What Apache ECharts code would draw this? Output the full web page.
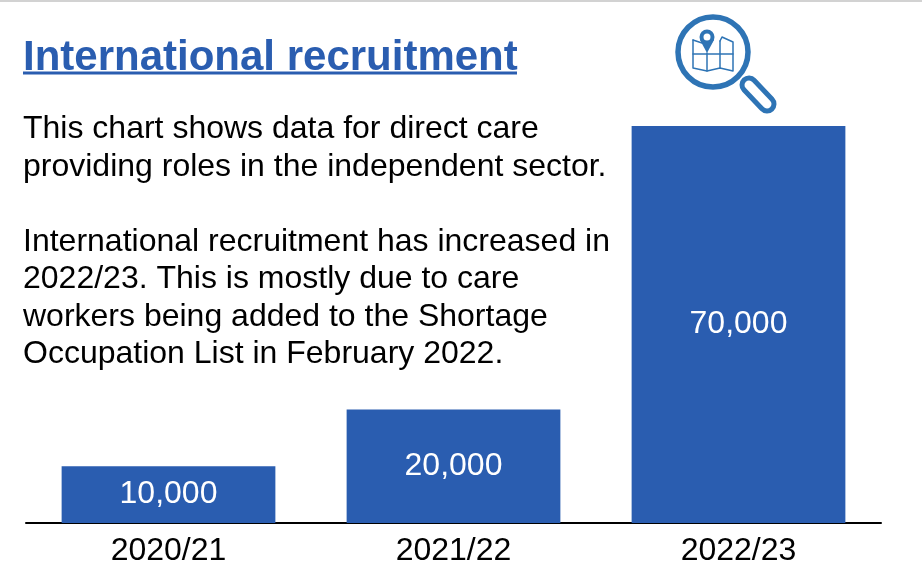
<!DOCTYPE html>
<html>
<head>
<meta charset="utf-8">
<style>html,body{margin:0;padding:0;background:#fff}#main{width:922px;height:568px}</style>
<script src="https://cdn.jsdelivr.net/npm/echarts@6/dist/echarts.min.js"></script>
</head>
<body>
<div id="main"></div>
<script>
var categories = ['2020/21', '2021/22', '2022/23'];
var recruits = [10000, 20000, 70000];
var titleText = 'International recruitment';
var bodyLines = [
    'This chart shows data for direct care',
    'providing roles in the independent sector.',
    '',
    'International recruitment has increased in',
    '2022/23. This is mostly due to care',
    'workers being added to the Shortage',
    'Occupation List in February 2022.'
];

var FONT = '"Liberation Sans", Arial, sans-serif';
var BLUE = '#2a5db0';
var ICON = '#2e74b5';

var myChart = echarts.init(document.getElementById('main'));

// magnifying glass + map icon
function iconLine(points, w, colour) {
    return {
        type: 'polyline',
        shape: {points: points},
        style: {stroke: colour || ICON, lineWidth: w || 1.5, fill: null, lineCap: 'round', lineJoin: 'round'}
    };
}

var graphics = [
    {type: 'rect', shape: {x: 0, y: 0, width: 922, height: 2}, style: {fill: '#d2d2d2'}},
    {type: 'rect', shape: {x: 23, y: 71.5, width: 494, height: 3}, style: {fill: BLUE}},
    {type: 'text', x: 23, y: 110.5, style: {text: bodyLines.join('\n'), font: '32px ' + FONT, fill: '#000', lineHeight: 37.5}},
    iconLine([[749, 85], [767, 104]], 19),
    iconLine([[749, 85], [767, 104]], 9, '#fff'),
    {type: 'circle', shape: {cx: 713, cy: 52, r: 35}, style: {stroke: ICON, lineWidth: 5.5, fill: '#fff'}},
    iconLine([[693, 40], [702, 43], [707, 42]]),
    iconLine([[720, 41], [722, 37], [733, 42], [733, 71], [720, 68], [707, 71], [693, 68], [693, 40]]),
    iconLine([[707, 53], [707, 71]]),
    iconLine([[720, 41], [720, 68]]),
    iconLine([[693, 54], [733, 54]]),
    {type: 'circle', shape: {cx: 707, cy: 37, r: 7.5}, style: {fill: ICON}},
    {type: 'polygon', shape: {points: [[700, 40], [714, 40], [707, 53]]}, style: {fill: ICON}},
    {type: 'circle', shape: {cx: 707, cy: 37, r: 3.5}, style: {fill: '#fff'}}
];

var option = {
    animation: false,
    backgroundColor: '#fff',
    title: {
        text: titleText,
        left: 23,
        top: 37,
        padding: 0,
        textStyle: {fontFamily: FONT, fontSize: 42, fontWeight: 'bold', color: BLUE}
    },
    grid: {left: 26, right: 41, top: 126, bottom: 45},
    xAxis: {
        type: 'category',
        data: categories,
        axisTick: {show: false},
        axisLine: {lineStyle: {color: '#000', width: 2}},
        axisLabel: {fontFamily: FONT, fontSize: 32, color: '#000', margin: 12}
    },
    yAxis: {type: 'value', min: 0, max: 70000, show: false, splitLine: {show: false}},
    series: [{
        type: 'bar',
        data: recruits,
        barWidth: '75%',
        itemStyle: {color: BLUE},
        label: {
            show: true,
            position: 'inside',
            fontFamily: FONT,
            fontSize: 32,
            color: '#fff',
            formatter: function (p) { return p.value.toLocaleString('en-GB'); }
        }
    }],
    graphic: {elements: graphics}
};
myChart.setOption(option);
</script>
</body>
</html>
